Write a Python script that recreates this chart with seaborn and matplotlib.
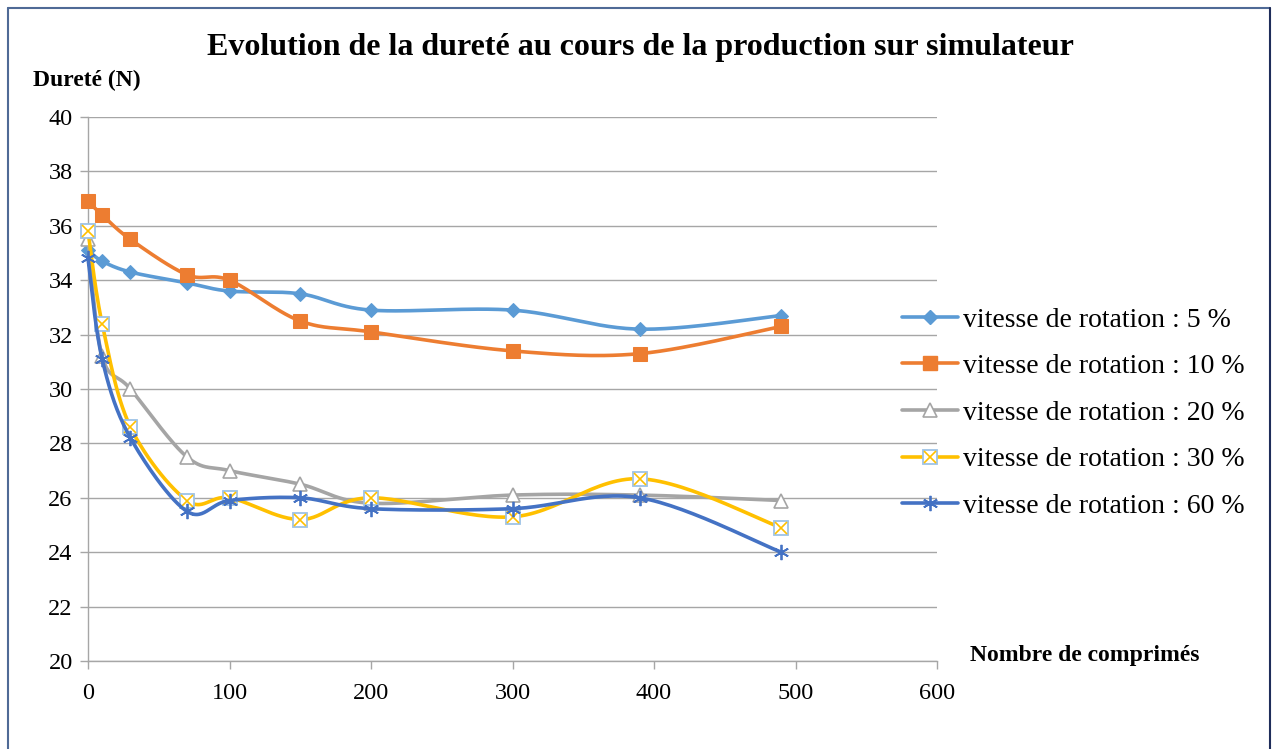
import numpy as np
import pandas as pd
import matplotlib
matplotlib.use("Agg")
import matplotlib.pyplot as plt
import seaborn as sns
from matplotlib.lines import Line2D
from matplotlib.legend_handler import HandlerTuple

# ---- data ----
comprimes = [0, 10, 30, 70, 100, 150, 200, 300, 390, 490]
v5 = [35.1, 34.7, 34.3, 33.9, 33.6, 33.5, 32.9, 32.9, 32.2, 32.7]
v10 = [36.9, 36.4, 35.5, 34.2, 34.0, 32.5, 32.1, 31.4, 31.3, 32.3]
v20 = [35.5, 31.2, 30.0, 27.5, 27.0, 26.5, 25.8, 26.1, 26.1, 25.9]
v30 = [35.8, 32.4, 28.6, 25.9, 26.0, 25.2, 26.0, 25.3, 26.7, 24.9]
v60 = [34.8, 31.1, 28.2, 25.5, 25.9, 26.0, 25.6, 25.6, 26.0, 24.0]
labels = ["vitesse de rotation : 5 %", "vitesse de rotation : 10 %",
          "vitesse de rotation : 20 %", "vitesse de rotation : 30 %",
          "vitesse de rotation : 60 %"]
title = "Evolution de la dureté au cours de la production sur simulateur"
ylabel = "Dureté (N)"
xlabel = "Nombre de comprimés"
yticks = [20, 22, 24, 26, 28, 30, 32, 34, 36, 38, 40]
xticks = [0, 100, 200, 300, 400, 500, 600]

sns.set_theme(style="white")
plt.rcParams['font.family'] = ['Liberation Serif', 'DejaVu Serif']
plt.rcParams['text.color'] = 'black'
plt.rcParams['xtick.color'] = 'black'
plt.rcParams['ytick.color'] = 'black'

fig = plt.figure(figsize=(12.72, 7.49), dpi=100)
ax = fig.add_axes([88/1272, 1-661/749, (937-88)/1272, (661-117)/749])
ax.set_xlim(0, 600)
ax.set_ylim(20, 40)

# pixel scale for smoothing (Excel-style Catmull-Rom Bezier)
sx = (937-88)/600.0
sy = (661-117)/20.0

def smooth(xs, ys, n=30):
    P = np.column_stack([np.array(xs)*sx, np.array(ys)*sy])
    out = []
    m = len(P)
    for i in range(m-1):
        p0 = P[i-1] if i > 0 else P[i]
        p1 = P[i]
        p2 = P[i+1]
        p3 = P[i+2] if i+2 < m else P[i+1]
        c1 = p1 + (p2 - p0)/6.0
        c2 = p2 - (p3 - p1)/6.0
        t = np.linspace(0, 1, n)[:, None]
        seg = ((1-t)**3)*p1 + 3*((1-t)**2)*t*c1 + 3*(1-t)*(t**2)*c2 + (t**3)*p2
        out.append(seg if i == 0 else seg[1:])
    S = np.vstack(out)
    return S[:, 0]/sx, S[:, 1]/sy

ax.yaxis.grid(True, color="#A6A6A6", linewidth=1.0)
ax.xaxis.grid(False)
ax.set_axisbelow(True)

series = [
    (v5, "#5B9BD5", dict(marker="D", markersize=7, markerfacecolor="#5B9BD5", markeredgecolor="#5B9BD5")),
    (v10, "#ED7D31", dict(marker="s", markersize=10, markerfacecolor="#ED7D31", markeredgecolor="#ED7D31")),
    (v20, "#A5A5A5", dict(marker="^", markersize=10, markerfacecolor="white", markeredgecolor="#A5A5A5", markeredgewidth=1.2)),
    (v30, "#FFC000", dict(marker="s", markersize=10, markerfacecolor="white", markeredgecolor="#9DC3E6", markeredgewidth=1.3)),
    (v60, "#4472C4", dict(marker=(6, 2, 0), markersize=11, markerfacecolor="#4472C4", markeredgecolor="#4472C4", markeredgewidth=1.3)),
]

handles = []
for k, (vals, col, mk) in enumerate(series):
    xs, ys = smooth(comprimes, vals)
    z = 2 + k
    sns.lineplot(x=xs, y=ys, color=col, linewidth=2.6, sort=False, estimator=None, ax=ax,
                 zorder=z, clip_on=False)
    sns.lineplot(x=comprimes, y=vals, linestyle="", color=col, sort=False, estimator=None,
                 ax=ax, zorder=z + 0.5, clip_on=False, **mk)
    if k == 3:
        sns.lineplot(x=comprimes, y=vals, linestyle="", marker="x", markersize=8, color="#FFC000",
                     markeredgecolor="#FFC000", markeredgewidth=1.2, sort=False, estimator=None,
                     ax=ax, zorder=z + 0.6, clip_on=False)
        h = (Line2D([], [], color=col, linewidth=2.6, **mk),
             Line2D([], [], linestyle="", marker="x", markersize=8, color="#FFC000", markeredgewidth=1.2))
    else:
        h = Line2D([], [], color=col, linewidth=2.6, **mk)
    handles.append(h)

leg = ax.legend(handles, labels, loc="center left", frameon=False,
                fontsize=20, handlelength=2.0, handletextpad=0.2, labelspacing=0.76,
                borderaxespad=0.0, borderpad=0.0,
                handler_map={tuple: HandlerTuple(ndivide=1)})
leg.set_bbox_to_anchor((902/1272, 1-413/749), transform=fig.transFigure)

ax.set_yticks(yticks)
ax.set_xticks(xticks)
ax.tick_params(axis="both", labelsize=17.5, labelcolor="black", length=6, width=1, direction="out",
               left=True, bottom=True)
ax.tick_params(axis="both", color="#A6A6A6")
ax.tick_params(axis="x", pad=10)
ax.tick_params(axis="y", pad=5)
for s in ["top", "right"]:
    ax.spines[s].set_visible(False)
for s in ["left", "bottom"]:
    ax.spines[s].set_color("#A6A6A6")
    ax.spines[s].set_linewidth(1.0)

fig.text(640/1272, 1-48/749, title, ha="center", va="center", fontsize=23, fontweight="bold")
fig.text(33/1272, 1-80/749, ylabel, ha="left", va="center", fontsize=17, fontweight="bold")
fig.text(1085/1272, 1-655/749, xlabel, ha="center", va="center", fontsize=17, fontweight="bold")

# chart frame (left, top, right)
fig.add_artist(Line2D([8/1272, 8/1272], [0, 1-8/749], transform=fig.transFigure,
                      color="#4F6A96", linewidth=1.5))
fig.add_artist(Line2D([8/1272, 1270/1272], [1-8/749, 1-8/749], transform=fig.transFigure,
                      color="#4F6A96", linewidth=1.5))
fig.add_artist(Line2D([1270/1272, 1270/1272], [0, 1-8/749], transform=fig.transFigure,
                      color="#1F2D5A", linewidth=1.5))

fig.savefig("out.png", dpi=100)
